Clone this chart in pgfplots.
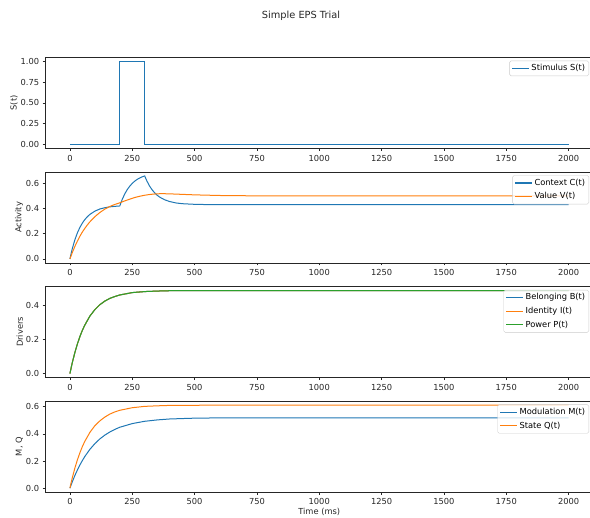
\documentclass[border=0pt]{standalone}
\usepackage{pgfplots}
\pgfplotsset{compat=1.18}
\usepackage{pgfplotstable}
\usepackage{fontspec}
\setmainfont{DejaVu Sans}
\newcommand{\fs}{\fontsize{8.3}{10}\selectfont}
\newcommand{\fstitle}{\fontsize{9.8}{12}\selectfont}
\definecolor{tabblue}{HTML}{1F77B4}
\definecolor{taborange}{HTML}{FF7F0E}
\definecolor{tabgreen}{HTML}{2CA02C}

\pgfplotstableread{
t S
0 0
200 0
200 1
300 1
300 0
2000 0
}\stimtab

\pgfplotstableread{
t C
0 0
5 0.045
10 0.085
20 0.153
30 0.207
40 0.250
50 0.285
60 0.313
70 0.335
80 0.353
100 0.379
120 0.396
140 0.406
160 0.413
180 0.417
200 0.420
205 0.448
210 0.473
220 0.516
230 0.550
240 0.577
250 0.599
260 0.617
270 0.631
280 0.642
290 0.651
300 0.658
305 0.634
310 0.613
320 0.576
330 0.547
340 0.524
350 0.505
360 0.490
380 0.469
400 0.455
425 0.444
450 0.438
500 0.433
550 0.431
600 0.430
2000 0.430
}\ctab

\pgfplotstableread{
t V
0 0
5 0.027
10 0.053
20 0.100
30 0.142
40 0.180
50 0.214
60 0.243
70 0.270
80 0.294
100 0.335
120 0.368
140 0.395
160 0.416
180 0.432
200 0.445
220 0.460
240 0.474
260 0.487
280 0.497
300 0.505
320 0.511
340 0.515
360 0.517
380 0.517
400 0.516
450 0.512
500 0.508
600 0.503
700 0.501
800 0.500
2000 0.500
}\vtab

\pgfplotstableread{
t P
0 0
5 0.034
10 0.067
20 0.124
30 0.174
40 0.217
50 0.254
60 0.285
80 0.337
100 0.375
120 0.404
140 0.425
160 0.441
180 0.452
200 0.461
250 0.475
300 0.481
350 0.484
400 0.486
500 0.487
2000 0.487
}\ptab

\pgfplotstableread{
t M
0 0
5 0.025
10 0.049
20 0.094
30 0.134
40 0.171
50 0.204
60 0.234
80 0.286
100 0.328
120 0.363
140 0.391
160 0.414
180 0.433
200 0.449
250 0.476
300 0.493
350 0.503
400 0.510
500 0.516
600 0.518
700 0.519
2000 0.519
}\mtab

\pgfplotstableread{
t Q
0 0
5 0.042
10 0.080
20 0.149
30 0.209
40 0.261
50 0.307
60 0.346
80 0.411
100 0.460
120 0.496
140 0.524
160 0.546
180 0.562
200 0.574
250 0.593
300 0.603
350 0.607
400 0.610
500 0.611
600 0.612
2000 0.612
}\qtab

\pgfplotsset{
  panel/.style={
    scale only axis, width=548.5pt, height=91.3pt,
    xmin=-100, xmax=2100,
    xtick={0,250,...,2000},
    tick align=outside, tick pos=left,
    major tick length=2.4pt,
    axis line style={black!85, line width=0.55pt},
    every tick/.style={black!85, line width=0.55pt},
    tick label style={font=\fs, black!85},
    label style={font=\fs, black!85},
    ylabel shift=-4pt,
    xlabel shift=-3.5pt,
    /pgf/number format/assume math mode=true,
    x tick label style={/pgf/number format/1000 sep={}, yshift=-0.5pt},
    legend style={font=\fs, at={(1,1)}, anchor=north east, xshift=-4.5pt, yshift=-3.5pt,
      draw=black!20, fill=white, fill opacity=0.8, text opacity=1, rounded corners=1.5pt,
      inner sep=1.8pt, row sep=2.2pt, nodes={inner sep=1.8pt}},
    legend cell align=left,
    legend image post style={line width=1.2pt},
    every axis plot/.append style={line width=1pt},
  }
}

\begin{document}
\begin{tikzpicture}
\useasboundingbox (0pt,0pt) rectangle (590pt,518pt);
\node[font=\fstitle, black!85] at (301pt,502.5pt) {Simple EPS Trial};

\begin{axis}[panel, at={(45pt,460.8pt)}, anchor=north west,
  ymin=-0.05, ymax=1.05, ytick={0,0.25,0.5,0.75,1},
  yticklabel style={/pgf/number format/.cd, fixed, fixed zerofill, precision=2},
  ylabel={S(t)}]
\addplot[color=tabblue] table[x=t,y=S] {\stimtab};
\addlegendentry{Stimulus S(t)}
\end{axis}

\begin{axis}[panel, at={(45pt,346.2pt)}, anchor=north west,
  ymin=-0.0329, ymax=0.6909, ytick={0,0.2,0.4,0.6},
  yticklabel style={/pgf/number format/.cd, fixed, fixed zerofill, precision=1},
  ylabel={Activity}]
\addplot[color=tabblue] table[x=t,y=C] {\ctab};
\addlegendentry{Context C(t)}
\addplot[color=taborange] table[x=t,y=V] {\vtab};
\addlegendentry{Value V(t)}
\end{axis}

\begin{axis}[panel, at={(45pt,231.6pt)}, anchor=north west,
  ymin=-0.0244, ymax=0.5114, ytick={0,0.2,0.4},
  yticklabel style={/pgf/number format/.cd, fixed, fixed zerofill, precision=1},
  ylabel={Drivers}]
\addplot[color=tabblue] table[x=t,y=P] {\ptab};
\addlegendentry{Belonging B(t)}
\addplot[color=taborange] table[x=t,y=P] {\ptab};
\addlegendentry{Identity I(t)}
\addplot[color=tabgreen] table[x=t,y=P] {\ptab};
\addlegendentry{Power P(t)}
\end{axis}

\begin{axis}[panel, at={(45pt,117.0pt)}, anchor=north west,
  ymin=-0.0306, ymax=0.6426, ytick={0,0.2,0.4,0.6},
  yticklabel style={/pgf/number format/.cd, fixed, fixed zerofill, precision=1},
  ylabel={M, Q}, xlabel={Time (ms)}]
\addplot[color=tabblue] table[x=t,y=M] {\mtab};
\addlegendentry{Modulation M(t)}
\addplot[color=taborange] table[x=t,y=Q] {\qtab};
\addlegendentry{State Q(t)}
\end{axis}
\end{tikzpicture}
\end{document}
